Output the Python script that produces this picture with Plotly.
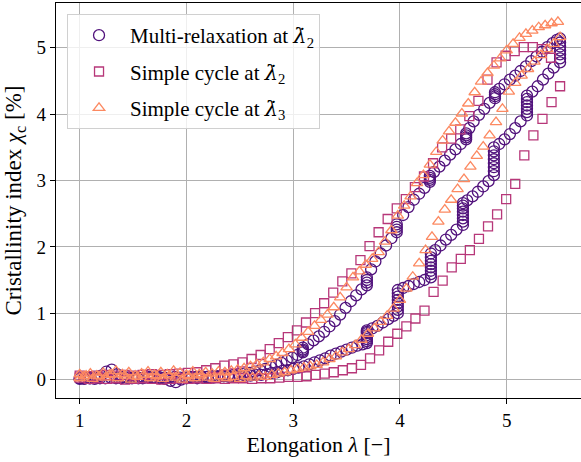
import plotly.graph_objects as go

# ---------------- data ----------------
# Multi-relaxation at lambda_dot_2 (circles)
circ_load_x = [1.00,1.05,1.10,1.15,1.20,1.25,1.30,1.35,1.40,1.45,1.50,1.55,1.60,1.65,1.70,1.75,1.80,1.85,1.90,1.95,
               2.00,2.05,2.10,2.15,2.20,2.25,2.30,2.35,2.40,2.45,2.50,2.55,2.60,2.65,2.70,2.75,
               2.80,2.85,2.90,2.95,3.00,3.05,3.10,3.15,3.20,3.25,3.30,3.35,3.40,3.45,3.50,3.55,3.60,3.65,
               3.69,3.69,3.69,3.69,3.69,3.69,3.69,3.69,
               3.74,3.79,3.84,3.89,3.94,
               3.98,3.98,3.98,3.98,3.98,3.98,3.98,3.98,
               4.03,4.08,4.13,4.18,4.23,
               4.29,4.29,4.29,4.29,4.29,4.29,4.29,4.29,
               4.33,4.38,4.43,4.48,4.53,
               4.59,4.59,4.59,4.59,4.59,4.59,4.59,4.59,
               4.63,4.68,4.73,4.78,4.83,
               4.88,4.88,4.88,4.88,4.88,4.88,4.88,4.88,
               4.93,4.98,5.03,5.08,5.13,
               5.19,5.19,5.19,5.19,5.19,5.19,5.19,
               5.24,5.29,5.34,5.39,5.44,
               5.50,5.50,5.50,5.50,5.50,5.50,5.50]
circ_load_y = [0.01,0.02,0.02,0.03,0.06,0.12,0.15,0.08,0.04,0.03,0.03,0.02,0.03,0.04,0.03,0.02,0.01,-0.02,-0.04,0.00,
               0.02,0.03,0.02,0.03,0.04,0.03,0.04,0.05,0.04,0.05,0.05,0.06,0.06,0.07,0.07,0.08,
               0.10,0.11,0.13,0.14,0.16,0.18,0.20,0.23,0.26,0.29,0.32,0.36,0.39,0.42,0.45,0.48,0.51,0.53,
               0.55,0.58,0.61,0.64,0.67,0.70,0.72,0.74,
               0.77,0.81,0.86,0.91,0.96,
               1.00,1.05,1.10,1.15,1.20,1.25,1.30,1.35,
               1.38,1.41,1.44,1.47,1.50,
               1.54,1.59,1.64,1.69,1.74,1.79,1.84,1.90,
               1.95,2.02,2.11,2.18,2.26,
               2.33,2.38,2.43,2.48,2.53,2.58,2.62,2.66,
               2.70,2.76,2.83,2.91,2.99,
               3.08,3.14,3.20,3.26,3.32,3.38,3.44,3.50,
               3.55,3.62,3.70,3.79,3.89,
               3.98,4.03,4.08,4.13,4.18,4.23,4.28,
               4.34,4.42,4.52,4.61,4.70,
               4.78,4.84,4.90,4.96,5.02,5.08,5.14]
circ_unload_x = [5.47,5.43,5.38,5.33,5.28,5.23,5.18,5.13,5.08,5.03,4.98,4.93,
                 4.89,4.89,4.89,4.89,
                 4.84,4.79,4.74,4.69,4.65,
                 4.62,4.62,4.62,4.62,
                 4.57,4.52,4.47,4.42,4.37,4.32,
                 4.28,4.28,4.28,4.28,
                 4.23,4.18,4.13,4.08,4.03,
                 3.97,3.97,3.97,3.97,
                 3.92,3.87,3.82,3.77,3.73,
                 3.69,3.69,3.69,3.69,
                 3.64,3.59,3.54,3.49,3.44,3.39,3.34,3.29,3.24,3.19,3.14,
                 3.09,3.09,3.09,3.09,
                 3.04,2.99,2.94,2.89,2.84,2.79,2.74,2.69,2.64,2.59,2.54,2.49,2.44,2.39,2.34,2.29,2.24,2.19,
                 2.14,2.09,2.04,1.99,1.94,1.89,1.84,1.79,1.74,1.69,1.64,1.59,1.54,1.49,1.44,1.39,1.34,1.29,
                 1.24,1.19,1.14,1.09,1.04,1.00]
circ_unload_y = [5.12,5.07,5.01,4.94,4.87,4.80,4.72,4.65,4.58,4.52,4.45,4.38,
                 4.33,4.30,4.27,4.24,
                 4.17,4.08,3.99,3.89,3.79,
                 3.71,3.68,3.65,3.62,
                 3.55,3.47,3.39,3.30,3.21,3.13,
                 3.07,3.04,3.01,2.98,
                 2.89,2.80,2.71,2.60,2.48,
                 2.34,2.30,2.26,2.22,
                 2.13,2.02,1.90,1.78,1.66,
                 1.54,1.50,1.46,1.42,
                 1.36,1.27,1.18,1.08,0.98,0.88,0.80,0.72,0.65,0.59,0.53,
                 0.48,0.45,0.43,0.41,
                 0.37,0.33,0.29,0.25,0.22,0.19,0.16,0.14,0.12,0.10,0.09,0.08,0.07,0.06,0.06,0.05,0.05,0.04,
                 0.05,0.04,0.04,0.03,0.03,0.04,0.03,0.03,0.04,0.03,0.03,0.02,0.03,0.02,0.03,0.02,0.02,0.03,
                 0.02,0.02,0.01,0.02,0.01,0.02]

# Simple cycle at lambda_dot_2 (squares)
sq_load_x = [1.000,1.085,1.170,1.255,1.340,1.425,1.510,1.595,1.680,1.765,1.850,1.935,2.020,2.105,2.190,2.275,
             2.360,2.445,2.530,2.615,2.700,2.785,2.870,2.955,3.040,3.125,3.210,3.295,3.380,3.465,3.550,3.635,
             3.720,3.805,3.890,3.975,4.060,4.145,4.230,4.315,4.400,4.485,4.570,4.655,4.740,4.825,4.910,4.995,
             5.080,5.165,5.250,5.335,5.420,5.500]
sq_load_y = [0.03,0.01,0.02,0.01,0.02,0.00,0.01,0.02,0.01,0.00,0.01,0.02,0.01,0.02,0.01,0.02,
             0.01,0.02,0.02,0.01,0.02,0.02,0.03,0.04,0.04,0.05,0.07,0.09,0.11,0.14,0.17,0.22,
             0.32,0.44,0.57,0.69,0.80,0.92,1.04,1.32,1.49,1.69,1.82,1.95,2.12,2.31,2.49,2.72,
             2.95,3.38,3.68,3.93,4.18,4.42]
sq_unload_x = [5.415,5.330,5.245,5.160,5.075,4.990,4.905,4.820,4.735,4.650,4.565,4.480,4.395,4.310,4.225,4.140,
               4.055,3.970,3.885,3.800,3.715,3.630,3.545,3.460,3.375,3.290,3.205,3.120,3.035,2.950,2.865,2.780,
               2.695,2.610,2.525,2.440,2.355,2.270,2.185,2.100,2.015,1.930,1.845,1.760,1.675,1.590,1.505,1.420,
               1.335,1.250,1.165,1.080,1.000]
sq_unload_y = [4.85,4.98,5.01,5.01,4.95,4.88,4.78,4.52,4.20,3.97,3.77,3.63,3.50,3.26,3.06,2.90,
               2.72,2.58,2.42,2.22,2.01,1.80,1.60,1.48,1.31,1.15,1.00,0.86,0.74,0.64,0.55,0.46,
               0.37,0.31,0.26,0.23,0.21,0.17,0.14,0.11,0.10,0.09,0.08,0.07,0.08,0.07,0.06,0.07,
               0.06,0.07,0.06,0.05,0.06]

# Simple cycle at lambda_dot_3 (triangles)
tri_load_x = [1.00,1.06,1.12,1.18,1.24,1.30,1.36,1.42,1.48,1.54,1.60,1.66,1.72,1.78,1.84,1.90,1.96,2.02,2.08,2.14,
              2.20,2.26,2.32,2.38,2.44,2.50,2.56,2.62,2.68,2.74,2.80,2.86,2.92,2.98,3.04,3.10,3.16,3.22,3.28,3.34,
              3.40,3.46,3.52,3.58,3.64,3.70,3.76,3.82,3.88,3.94,4.00,4.06,4.12,4.18,4.24,4.30,4.36,4.42,4.48,4.54,
              4.60,4.66,4.72,4.78,4.84,4.90,4.96,5.02,5.08,5.14,5.20,5.26,5.32,5.38,5.44,5.50]
tri_load_y = [0.02,0.06,0.01,0.05,0.03,0.08,0.02,0.06,0.00,0.04,0.07,0.02,0.05,0.01,0.06,0.03,0.00,0.05,0.02,0.06,
              0.03,0.01,0.05,0.02,0.04,0.01,0.05,0.03,0.06,0.04,0.07,0.09,0.11,0.14,0.16,0.18,0.20,0.22,0.26,0.31,
              0.35,0.41,0.46,0.52,0.60,0.69,0.77,0.87,0.96,1.07,1.20,1.37,1.55,1.75,1.95,2.15,2.38,2.56,2.71,2.87,
              3.02,3.21,3.37,3.51,3.68,3.88,4.08,4.34,4.47,4.58,4.68,4.79,4.89,4.98,5.06,5.16]
tri_unload_x = [5.48,5.42,5.36,5.30,5.24,5.18,5.12,5.06,5.00,4.94,4.88,4.82,4.76,4.70,4.64,4.58,4.52,4.46,4.40,4.34,
                4.28,4.22,4.16,4.10,4.04,3.98,3.92,3.86,3.80,3.74,3.68,3.62,3.56,3.50,3.44,3.38,3.32,3.26,3.20,3.14,
                3.08,3.02,2.96,2.90,2.84,2.78,2.72,2.66,2.60,2.54,2.48,2.42,2.36,2.30,2.24,2.18,2.12,2.06,2.00,1.94,
                1.88,1.82,1.76,1.70,1.64,1.58,1.52,1.46,1.40,1.34,1.28,1.22,1.16,1.10,1.04,1.00]
tri_unload_y = [5.39,5.37,5.34,5.31,5.26,5.21,5.15,5.06,4.96,4.84,4.73,4.62,4.49,4.33,4.16,4.01,3.87,3.74,3.60,3.43,
                3.24,3.08,2.96,2.76,2.62,2.47,2.25,2.08,1.92,1.82,1.73,1.63,1.54,1.39,1.24,1.09,0.98,0.90,0.81,0.72,
                0.63,0.53,0.46,0.40,0.35,0.31,0.26,0.23,0.20,0.17,0.15,0.13,0.11,0.12,0.09,0.11,0.08,0.12,0.07,0.10,
                0.13,0.08,0.11,0.07,0.12,0.09,0.06,0.11,0.08,0.13,0.07,0.10,0.06,0.09,0.05,0.08]

LAM = '<span style="font-family:DejaVu Serif;font-style:italic">λ\u0307</span>'
labels = ["Multi-relaxation at " + LAM + "<sub>2</sub>",
          "Simple cycle at " + LAM + "<sub>2</sub>",
          "Simple cycle at " + LAM + "<sub>3</sub>"]
colors = ["#51127c", "#b73779", "#fc8961"]
x_ticks = [1, 2, 3, 4, 5]
y_ticks = [0, 1, 2, 3, 4, 5]

FONT = "Liberation Serif, Times New Roman, serif"

fig = go.Figure()
fig.add_trace(go.Scatter(x=circ_load_x + circ_unload_x, y=circ_load_y + circ_unload_y, mode="markers",
                         name=labels[0], legendgroup="a",
                         marker=dict(symbol="circle-open", size=11, color=colors[0], line=dict(width=1.3))))
fig.add_trace(go.Scatter(x=sq_load_x + sq_unload_x, y=sq_load_y + sq_unload_y, mode="markers",
                         name=labels[1], legendgroup="b",
                         marker=dict(symbol="square-open", size=9, color=colors[1], line=dict(width=1.3))))
fig.add_trace(go.Scatter(x=tri_load_x + tri_unload_x, y=tri_load_y + tri_unload_y, mode="markers",
                         name=labels[2], legendgroup="c",
                         marker=dict(symbol="triangle-up-open", size=10, color=colors[2], line=dict(width=1.3))))

fig.update_layout(
    width=581, height=462,
    margin=dict(l=56, r=0, t=3, b=64),
    paper_bgcolor="white", plot_bgcolor="white",
    font=dict(family=FONT, size=19, color="black"),
    showlegend=True,
    legend=dict(x=0.021, y=0.972, xanchor="left", yanchor="top",
                bgcolor="rgba(255,255,255,0.8)", bordercolor="#d0d0d0", borderwidth=1,
                font=dict(family=FONT, size=21), tracegroupgap=6, traceorder="grouped",
                itemwidth=52),
)
fig.update_xaxes(range=[0.778, 5.696], tickvals=x_ticks, ticks="outside", ticklen=5, tickcolor="black",
                 showline=True, linecolor="black", linewidth=1.2, mirror=True,
                 showgrid=True, gridcolor="#b0b0b0", gridwidth=1, zeroline=False,
                 title=dict(text="Elongation <i>λ</i> [−]", standoff=6,
                            font=dict(family=FONT, size=22, color="black")),
                 tickfont=dict(family=FONT, size=19))
fig.update_yaxes(range=[-0.278, 5.675], tickvals=y_ticks, ticks="outside", ticklen=5, tickcolor="black",
                 showline=True, linecolor="black", linewidth=1.2, mirror=False,
                 showgrid=True, gridcolor="#b0b0b0", gridwidth=1, zeroline=False,
                 title=dict(text="Cristallinity index <i>χ</i><sub>c</sub> [%]", standoff=8,
                            font=dict(family=FONT, size=23, color="black")),
                 tickfont=dict(family=FONT, size=19))

fig.write_html("out.html")
